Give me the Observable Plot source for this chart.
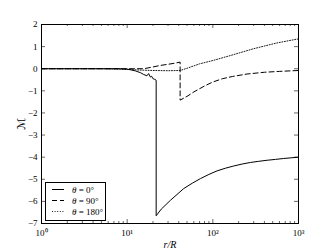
<!DOCTYPE html>
<html><head><meta charset="utf-8">
<script src="https://cdn.jsdelivr.net/npm/d3@7"></script>
<script src="https://cdn.jsdelivr.net/npm/@observablehq/plot@0.6"></script>
<style>
body{margin:0;background:#fff;}
#wrap{position:relative;width:332px;height:249px;}
#wrap svg{font-family:"Liberation Serif",serif;}
g[aria-label="x-axis label"] text{font-style:italic;font-size:10px;}
g[aria-label="y-axis label"] text{font-size:11px;font-family:"DejaVu Sans",sans-serif;}
#legend{position:absolute;left:45px;top:182px;}
</style></head><body><div id="wrap"></div><script>
// θ = 0°
const r0 = [1, 2, 3, 5, 8, 10, 11, 12.5, 14.3, 15.6, 17, 17.8, 18.7, 19.3, 20, 21, 21.8, 21.8, 25, 32, 45.7, 58, 71.6, 90, 112, 140, 175, 220, 275, 340, 430, 540, 670, 820, 1000];
const m0 = [0, 0, 0, 0, 0, -0.02, -0.05, -0.1, -0.18, -0.26, -0.32, -0.22, -0.38, -0.34, -0.45, -0.48, -0.52, -6.65, -6.35, -5.95, -5.42, -5.17, -4.97, -4.78, -4.62, -4.5, -4.4, -4.31, -4.24, -4.19, -4.14, -4.1, -4.06, -4.03, -4.0];
// θ = 90°
const r90 = [1, 2, 3, 5, 8, 10, 12, 15.6, 20, 24.5, 30, 36, 41.5, 41.5, 50, 60, 80, 100, 130, 170, 250, 400, 600, 1000];
const m90 = [0, 0, 0, 0, 0, 0, 0, 0, 0.08, 0.15, 0.2, 0.25, 0.3, -1.42, -1.25, -1.05, -0.78, -0.6, -0.45, -0.35, -0.24, -0.16, -0.12, -0.08];
// θ = 180°
const r180 = [1, 2, 3, 5, 8, 10, 14, 20, 30, 41.5, 50, 70, 100, 172, 296, 550, 1000];
const m180 = [0, 0, 0, 0, -0.02, -0.03, -0.06, -0.08, -0.09, -0.08, 0.02, 0.22, 0.37, 0.63, 0.9, 1.16, 1.35];

const seriesLabels = ["0°", "90°", "180°"];
const seriesDash = [null, "5,3", "1,1.6"];
const seriesWidth = [1, 1, 0.9];
const xMajor = [1, 10, 100, 1000];
const xMinor = [2,3,4,5,6,7,8,9,20,30,40,50,60,70,80,90,200,300,400,500,600,700,800,900];
const yTicks = [-7, -6, -5, -4, -3, -2, -1, 0, 1, 2];
const sup = {0: "⁰", 1: "¹", 2: "²", 3: "³"};

const toRows = (rs, ms) => rs.map((r, i) => ({r, m: ms[i]}));
const series = [toRows(r0, m0), toRows(r90, m90), toRows(r180, m180)];

const W = 332, H = 249, mL = 41, mR = 34, mT = 24, mB = 26;
const ph = H - mT - mB, pw = W - mL - mR;

const chart = Plot.plot({
  width: W, height: H,
  marginLeft: mL, marginRight: mR, marginTop: mT, marginBottom: mB,
  x: {type: "log", domain: [1, 1000]},
  y: {domain: [-7, 2]},
  style: {fontFamily: "Liberation Serif, serif", fontSize: "9px", color: "black", background: "white"},
  marks: [
    Plot.axisX({ticks: xMajor, tickSize: 0, tickPadding: 6, tickFormat: d => "10" + sup[Math.round(Math.log10(d))],
      label: "r/R", labelAnchor: "center", labelArrow: "none", labelOffset: 24}),
    Plot.axisY({ticks: yTicks, tickSize: 0, tickPadding: 4,
      label: "ℳ", labelAnchor: "center", labelArrow: "none", labelOffset: 24}),
    Plot.tickX(xMajor, {x: d => d, insetTop: ph - 4, stroke: "black", strokeWidth: 0.6}),
    Plot.tickX(xMajor, {x: d => d, insetBottom: ph - 4, stroke: "black", strokeWidth: 0.6}),
    Plot.tickX(xMinor, {x: d => d, insetTop: ph - 2, stroke: "black", strokeWidth: 0.6}),
    Plot.tickX(xMinor, {x: d => d, insetBottom: ph - 2, stroke: "black", strokeWidth: 0.6}),
    Plot.tickY(yTicks, {y: d => d, insetRight: pw - 4, stroke: "black", strokeWidth: 0.6}),
    Plot.tickY(yTicks, {y: d => d, insetLeft: pw - 4, stroke: "black", strokeWidth: 0.6}),
    ...series.map((s, i) => Plot.line(s, {x: "r", y: "m", stroke: "black", strokeWidth: seriesWidth[i], strokeDasharray: seriesDash[i], curve: "linear"})),
    Plot.frame({stroke: "black", strokeWidth: 1})
  ]
});
const wrap = document.getElementById("wrap");
wrap.appendChild(chart);

// legend
const lg = d3.select(wrap).append("svg").attr("id", "legend").attr("width", 61).attr("height", 39)
  .style("font-family", "Liberation Serif, serif").style("font-size", "9px");
lg.append("rect").attr("x", 0.5).attr("y", 0.5).attr("width", 60).attr("height", 38).attr("fill", "white").attr("stroke", "black");
seriesLabels.forEach((lab, i) => {
  const y = 7.5 + i * 11;
  lg.append("line").attr("x1", 7).attr("x2", 19).attr("y1", y).attr("y2", y).attr("stroke", "black").attr("stroke-width", seriesWidth[i])
    .attr("stroke-dasharray", seriesDash[i]);
  const t = lg.append("text").attr("x", 27).attr("y", y + 3);
  t.append("tspan").attr("font-style", "italic").text("θ");
  t.append("tspan").text(" = " + lab);
});
</script></body></html>
